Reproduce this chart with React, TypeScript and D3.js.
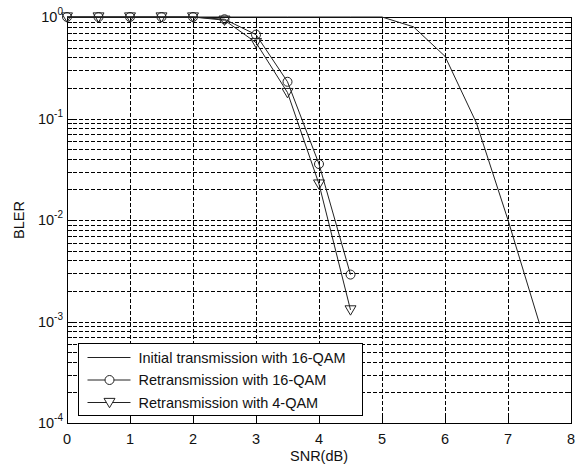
import React, { useEffect, useRef } from "react";
import * as d3 from "d3";

const WIDTH = 586;
const HEIGHT = 466;
const margin = { top: 17, right: 15, bottom: 43, left: 67 };

// SNR values (dB)
const snrInitial = [0, 0.5, 1, 1.5, 2, 2.5, 3, 3.5, 4, 4.5, 5, 5.5, 6, 6.5, 7, 7.5];
const blerInitial = [1, 1, 1, 1, 1, 1, 1, 1, 1, 1, 1, 0.8, 0.41, 0.09, 0.01, 0.00095];

const snrRetx = [0, 0.5, 1, 1.5, 2, 2.5, 3, 3.5, 4, 4.5];
const blerRetx16 = [1, 1, 1, 1, 1, 0.95, 0.67, 0.23, 0.0356, 0.0029];
const blerRetx4 = [1, 1, 1, 1, 1, 0.93, 0.56, 0.18, 0.0226, 0.0013];

const xTicks = [0, 1, 2, 3, 4, 5, 6, 7, 8];
const yExps = [0, -1, -2, -3, -4];

const legendLabels = [
  "Initial transmission with 16-QAM",
  "Retransmission with 16-QAM",
  "Retransmission with 4-QAM",
];

const FONT = "Arial, 'Liberation Sans', Helvetica, sans-serif";
const FS = 14.5;

export default function App() {
  const ref = useRef<SVGSVGElement>(null);

  useEffect(() => {
    const svg = d3.select(ref.current);
    svg.selectAll("*").remove();

    const x = d3
      .scaleLinear()
      .domain([0, 8])
      .range([margin.left, WIDTH - margin.right]);
    const y = d3
      .scaleLog()
      .domain([1e-4, 1])
      .range([HEIGHT - margin.bottom, margin.top]);

    const g = svg.append("g");

    // grid: minor + major log lines
    const yGrid: number[] = [];
    for (let e = -4; e < 0; e++) {
      for (let m = 1; m < 10; m++) yGrid.push(m * Math.pow(10, e));
    }
    g.selectAll("line.hgrid")
      .data(yGrid.filter((v) => v > 1e-4))
      .join("line")
      .attr("class", "hgrid")
      .attr("x1", x(0))
      .attr("x2", x(8))
      .attr("y1", (d) => Math.round(y(d)) + 0.5)
      .attr("y2", (d) => Math.round(y(d)) + 0.5)
      .attr("stroke", "#000")
      .attr("stroke-width", 1)
      .attr("stroke-dasharray", "4 2");

    g.selectAll("line.vgrid")
      .data(xTicks.slice(1, -1))
      .join("line")
      .attr("class", "vgrid")
      .attr("x1", (d) => Math.round(x(d)) + 0.5)
      .attr("x2", (d) => Math.round(x(d)) + 0.5)
      .attr("y1", y(1))
      .attr("y2", y(1e-4))
      .attr("stroke", "#000")
      .attr("stroke-width", 1)
      .attr("stroke-dasharray", "4 2");

    // ticks inside (left and right)
    yGrid.forEach((v) => {
      const yy = Math.round(y(v)) + 0.5;
      const major = Math.abs(Math.log10(v) - Math.round(Math.log10(v))) < 1e-9;
      const len = major ? 8 : 5;
      g.append("line")
        .attr("x1", x(0)).attr("x2", x(0) + len)
        .attr("y1", yy).attr("y2", yy)
        .attr("stroke", "#000");
      g.append("line")
        .attr("x1", x(8)).attr("x2", x(8) - len)
        .attr("y1", yy).attr("y2", yy)
        .attr("stroke", "#000");
    });
    xTicks.forEach((t) => {
      const xx = Math.round(x(t)) + 0.5;
      g.append("line")
        .attr("x1", xx).attr("x2", xx)
        .attr("y1", y(1e-4)).attr("y2", y(1e-4) - 7)
        .attr("stroke", "#000");
      g.append("line")
        .attr("x1", xx).attr("x2", xx)
        .attr("y1", y(1)).attr("y2", y(1) + 7)
        .attr("stroke", "#000");
    });

    // axes box
    g.append("rect")
      .attr("x", Math.round(x(0)) + 0.5)
      .attr("y", Math.round(y(1)) + 0.5)
      .attr("width", Math.round(x(8)) - Math.round(x(0)))
      .attr("height", Math.round(y(1e-4)) - Math.round(y(1)))
      .attr("fill", "none")
      .attr("stroke", "#000");

    // tick labels
    g.selectAll("text.xt")
      .data(xTicks)
      .join("text")
      .attr("class", "xt")
      .attr("x", (d) => x(d))
      .attr("y", y(1e-4) + 21)
      .attr("text-anchor", "middle")
      .attr("font-family", FONT)
      .attr("font-size", FS)
      .attr("fill", "#111")
      .text((d) => d);

    yExps.forEach((e) => {
      const t = g
        .append("text")
        .attr("x", x(0) - 4)
        .attr("y", y(Math.pow(10, e)) + 5)
        .attr("text-anchor", "end")
        .attr("font-family", FONT)
        .attr("font-size", FS)
        .attr("fill", "#111");
      t.append("tspan").text("10");
      t.append("tspan")
        .attr("dy", -7)
        .attr("font-size", 10)
        .text(e);
    });

    // axis labels
    g.append("text")
      .attr("x", (x(0) + x(8)) / 2)
      .attr("y", HEIGHT - 5)
      .attr("text-anchor", "middle")
      .attr("font-family", FONT)
      .attr("font-size", FS)
      .attr("fill", "#111")
      .text("SNR(dB)");
    g.append("text")
      .attr("transform", `translate(24, ${(y(1) + y(1e-4)) / 2}) rotate(-90)`)
      .attr("text-anchor", "middle")
      .attr("font-family", FONT)
      .attr("font-size", FS)
      .attr("fill", "#111")
      .text("BLER");

    const line = d3
      .line<[number, number]>()
      .x((d) => x(d[0]))
      .y((d) => y(d[1]));

    const series = [
      { xs: snrInitial, ys: blerInitial, marker: "none" },
      { xs: snrRetx, ys: blerRetx16, marker: "circle" },
      { xs: snrRetx, ys: blerRetx4, marker: "tri" },
    ];

    const tri = (cx: number, cy: number, r: number) =>
      `M${cx - r},${cy - r * 0.75}L${cx + r},${cy - r * 0.75}L${cx},${cy + r * 0.95}Z`;

    series.forEach((s) => {
      const pts = s.xs.map((v, i) => [v, s.ys[i]] as [number, number]);
      g.append("path")
        .attr("d", line(pts))
        .attr("fill", "none")
        .attr("stroke", "#222")
        .attr("stroke-width", 1);
      if (s.marker === "circle") {
        g.selectAll(null)
          .data(pts)
          .join("circle")
          .attr("cx", (d) => x(d[0]))
          .attr("cy", (d) => y(d[1]))
          .attr("r", 4.5)
          .attr("fill", "none")
          .attr("stroke", "#222");
      } else if (s.marker === "tri") {
        g.selectAll(null)
          .data(pts)
          .join("path")
          .attr("d", (d) => tri(x(d[0]), y(d[1]), 5.5))
          .attr("fill", "none")
          .attr("stroke", "#222");
      }
    });

    // legend
    const lg = g.append("g").attr("transform", "translate(78.5, 343.5)");
    lg.append("rect")
      .attr("width", 284)
      .attr("height", 72)
      .attr("fill", "#fff")
      .attr("stroke", "#000");
    legendLabels.forEach((lab, i) => {
      const yy = 14 + i * 22.5;
      lg.append("line")
        .attr("x1", 9).attr("x2", 52)
        .attr("y1", yy).attr("y2", yy)
        .attr("stroke", "#222");
      if (i === 1) {
        lg.append("circle")
          .attr("cx", 31).attr("cy", yy).attr("r", 4.5)
          .attr("fill", "#fff").attr("stroke", "#222");
      } else if (i === 2) {
        lg.append("path")
          .attr("d", tri(31, yy, 5.5))
          .attr("fill", "#fff").attr("stroke", "#222");
      }
      lg.append("text")
        .attr("x", 60)
        .attr("y", yy + 5)
        .attr("font-family", FONT)
        .attr("font-size", FS)
        .attr("fill", "#111")
        .text(lab);
    });
  }, []);

  return (
    <svg
      ref={ref}
      width={WIDTH}
      height={HEIGHT}
      style={{ position: "absolute", left: 0, top: 0, background: "#fff" }}
    />
  );
}
